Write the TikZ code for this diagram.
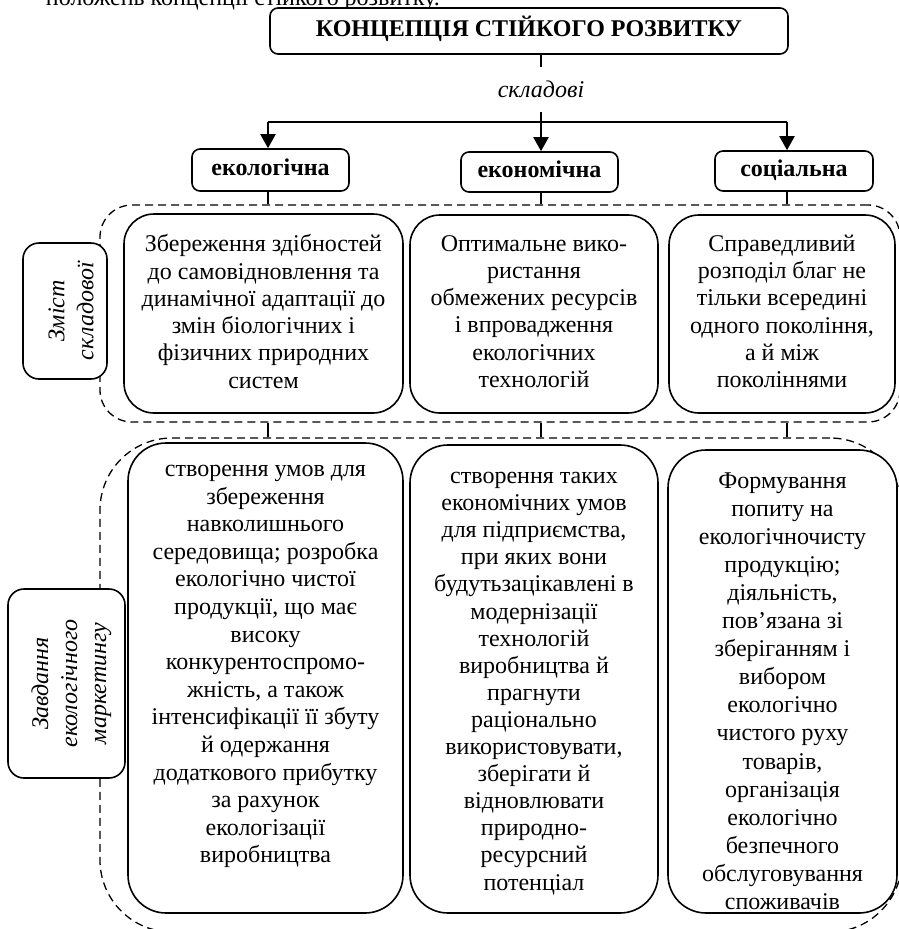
\documentclass[tikz,border=0pt]{standalone}
\usepackage{fontspec}
\setmainfont{Liberation Serif}
\usetikzlibrary{arrows.meta}

\begin{document}
\begin{tikzpicture}[x=1pt,y=-1pt,
  every node/.style={inner sep=0pt,align=center},
  txt/.style={font=\fontsize{24}{27.3}\selectfont},
  hdbox/.style={draw,fill=white,line width=1.6pt,rounded corners=8pt,
    text height=16pt,text depth=5pt,
    font=\bfseries\fontsize{24}{27}\selectfont},
  region/.style={draw,line width=1.3pt,dash pattern=on 8pt off 5pt},
  cbox/.style={draw,fill=white,line width=1.6pt,rounded corners=30pt},
  tbox/.style={draw,fill=white,line width=1.6pt,rounded corners=38pt},
  sidebox/.style={draw,fill=white,line width=1.6pt,rounded corners=16pt},
  sidetext/.style={rotate=90,font=\itshape\fontsize{24}{29}\selectfont},
  conn/.style={line width=1.3pt},
  mainline/.style={line width=2pt},
  arr/.style={line width=2pt,-{Triangle[length=14pt,width=15pt]}}
]
\useasboundingbox (0,0) rectangle (899,929);

% tail of the preceding sentence
\node[txt,anchor=base east] (prev) at (440,5) {положень концепції стійкого розвитку.};

% title and the three components
\node[hdbox,minimum width=518pt,minimum height=46pt] (title) at (529,31) {КОНЦЕПЦІЯ СТІЙКОГО РОЗВИТКУ};
\node[font=\itshape\fontsize{24}{27}\selectfont,minimum height=45pt] (lbl) at (541,89.5) {складові};

\coordinate (jL) at (268,122);
\coordinate (jM) at (541,122);
\coordinate (jR) at (787,122);

\node[hdbox,minimum width=157pt,minimum height=42pt] (ekol) at (270.5,170) {екологічна};
\node[hdbox,minimum width=157pt,minimum height=40pt] (econ) at (539.5,172) {економічна};
\node[hdbox,minimum width=158pt,minimum height=40pt] (soc) at (794,171) {соціальна};

\draw[mainline] (title.south -| lbl) -- (lbl.north);
\draw[mainline] (lbl.south) -- (jM);
\draw[mainline] (jL) -- (jR);
\draw[arr] (jL) -- (jL |- ekol.north);
\draw[arr] (jM) -- (jM |- econ.north);
\draw[arr] (jR) -- (jR |- soc.north);

% dashed groups
\node[region,rounded corners=32pt,minimum width=800pt,minimum height=217pt] (reg1) at (500,313.5) {};
\node[region,rounded corners=72pt,minimum width=802pt,minimum height=494pt] (reg2) at (501,685) {};

\draw[conn] (ekol.south -| jL) -- (jL |- reg1.north);
\draw[conn] (econ.south -| jM) -- (jM |- reg1.north);
\draw[conn] (soc.south -| jR) -- (jR |- reg1.north);
\draw[conn] (jL |- reg1.south) -- (jL |- reg2.north);
\draw[conn] (jM |- reg1.south) -- (jM |- reg2.north);
\draw[conn] (jR |- reg1.south) -- (jR |- reg2.north);

% side labels
\node[sidebox,minimum width=84pt,minimum height=136pt] (labA) at (65,311) {};
\node[sidetext] (labAt) at (71,311) {Зміст\\складової};
\node[sidebox,minimum width=117pt,minimum height=189pt] (labB) at (66.5,683.5) {};
\node[sidetext] (labBt) at (71.5,683.5) {Завдання\\екологічного\\маркетингу};

% content of each component
\node[cbox,minimum width=279pt,minimum height=199pt] (zA) at (263.5,313.5) {};
\node[cbox,minimum width=248pt,minimum height=198pt] (zB) at (534,314) {};
\node[cbox,minimum width=226pt,minimum height=198pt] (zC) at (782,314) {};

\node[txt] (zAt) at (263.5,311.5) {Збереження здібностей\\до самовідновлення та\\динамічної адаптації до\\змін біологічних і\\фізичних природних\\систем};
\node[txt] (zBt) at (534,311.5) {Оптимальне вико-\\ристання\\обмежених ресурсів\\і впровадження\\екологічних\\технологій};
\node[txt] (zCt) at (782,311.5) {Справедливий\\розподіл благ не\\тільки всередині\\одного покоління,\\а й між\\поколіннями};

% tasks of ecological marketing
\node[tbox,minimum width=275pt,minimum height=470pt] (tD) at (265.5,678) {};
\node[tbox,minimum width=248pt,minimum height=468pt] (tE) at (534,679) {};
\node[tbox,minimum width=229pt,minimum height=463pt] (tF) at (782.5,681.5) {};

\node[font=\fontsize{24}{27.6}\selectfont] (tDt) at (265.5,666.5) {створення умов для\\збереження\\навколишнього\\середовища; розробка\\екологічно чистої\\продукції, що має\\високу\\конкурентоспромо-\\жність, а також\\інтенсифікації її збуту\\й одержання\\додаткового прибутку\\за рахунок\\екологізації\\виробництва};
\node[font=\fontsize{24}{27.1}\selectfont] (tEt) at (534,683.5) {створення таких\\економічних умов\\для підприємства,\\при яких вони\\будутьзацікавлені в\\модернізації\\технологій\\виробництва й\\прагнути\\раціонально\\використовувати,\\зберігати й\\відновлювати\\природно-\\ресурсний\\потенціал};
\node[font=\fontsize{24}{28.1}\selectfont] (tFt) at (782.5,691) {Формування\\попиту на\\екологічночисту\\продукцію;\\діяльність,\\пов'язана зі\\зберіганням і\\вибором\\екологічно\\чистого руху\\товарів,\\організація\\екологічно\\безпечного\\обслуговування\\споживачів};
\end{tikzpicture}
\end{document}
